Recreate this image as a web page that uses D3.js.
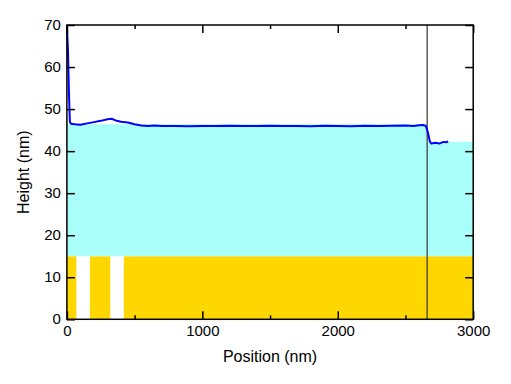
<!DOCTYPE html>
<html><head><meta charset="utf-8">
<script src="https://cdn.jsdelivr.net/npm/d3@7"></script>
<style>body{margin:0;background:#fff}svg{display:block}text{font-family:"Liberation Sans",Arial,Helvetica,sans-serif;fill:#000}</style>
</head><body>
<svg id="c" width="511" height="384"></svg>
<script>
// Data
const profilePos = [0, 8, 15, 22, 30, 60, 100, 150, 200, 250, 300, 330, 360, 400, 450, 500, 550, 600, 650, 700, 800, 900, 1000, 1100, 1200, 1300, 1400, 1500, 1600, 1700, 1800, 1900, 2000, 2100, 2200, 2300, 2400, 2500, 2560, 2600, 2630, 2650, 2665, 2680, 2690, 2720, 2750, 2780, 2800, 2815];
const profileHeight = [70, 64, 54, 47, 46.5, 46.4, 46.3, 46.6, 46.9, 47.2, 47.6, 47.7, 47.3, 47.0, 46.8, 46.4, 46.1, 46.0, 46.1, 45.95, 46.0, 45.9, 46.0, 45.95, 46.05, 45.95, 46.0, 46.05, 45.95, 46.0, 45.9, 46.05, 46.0, 45.9, 46.05, 45.95, 46.05, 46.1, 46.0, 46.15, 46.2, 46.0, 44.5, 42.3, 41.8, 42.0, 41.8, 42.2, 42.1, 42.3];
const cyanX0 = [0, 0];
const cyanX1 = [2660, 3000];
const cyanY0 = [42.2, 15];
const cyanY1 = [46.4, 42.2];
const yellowX0 = [0, 170, 420];
const yellowX1 = [70, 320, 3000];
const yellowTop = 15;
const edgePos = 2660;
const xTickLabels = [0, 1000, 2000, 3000];
const yTickLabels = [0, 10, 20, 30, 40, 50, 60, 70];
const xMinorTicks = [500, 1500, 2500];

const svg = d3.select("#c");
const L = 66.9, R = 473.2, T = 25, B = 319.3;
const x = d3.scaleLinear().domain([0, 3000]).range([L, R]);
const y = d3.scaleLinear().domain([0, 70]).range([B, T]);

// yellow
svg.append("g").selectAll("rect").data(yellowX0.map((v,i)=>({x0:v,x1:yellowX1[i]}))).join("rect")
  .attr("x", d=>x(d.x0)).attr("width", d=>x(d.x1)-x(d.x0))
  .attr("y", y(yellowTop)).attr("height", y(0)-y(yellowTop)).attr("fill", "#ffd700");
// cyan
svg.append("g").selectAll("rect").data(cyanX0.map((v,i)=>({x0:v,x1:cyanX1[i],y0:cyanY0[i],y1:cyanY1[i]}))).join("rect")
  .attr("x", d=>x(d.x0)).attr("width", d=>x(d.x1)-x(d.x0))
  .attr("y", d=>y(d.y1)).attr("height", d=>y(d.y0)-y(d.y1)).attr("fill", "#abfffa");

// vertical edge line
svg.append("line").attr("x1", x(edgePos)).attr("x2", x(edgePos)).attr("y1", y(0)).attr("y2", y(70))
  .attr("stroke", "#333").attr("stroke-width", 1.2);

// profile line
const pts = profilePos.map((p,i)=>[p, profileHeight[i]]);
svg.append("path").datum(pts)
  .attr("d", d3.line().x(d=>x(d[0])).y(d=>y(d[1])))
  .attr("fill", "none").attr("stroke", "#0000ff").attr("stroke-width", 2).attr("stroke-linejoin","round");

// Axes with inward ticks
const fmt = d3.format("d");
const axB = d3.axisBottom(x).tickValues(xTickLabels).tickSize(-8).tickFormat(fmt).tickPadding(14);
const gB = svg.append("g").attr("transform", `translate(0,${B})`).call(axB);
const axBm = d3.axisBottom(x).tickValues(xMinorTicks).tickSize(-4).tickFormat("");
svg.append("g").attr("transform", `translate(0,${B})`).call(axBm);
const axT = d3.axisTop(x).tickValues(xTickLabels).tickSize(-8).tickFormat("");
svg.append("g").attr("transform", `translate(0,${T})`).call(axT);
const axTm = d3.axisTop(x).tickValues(xMinorTicks).tickSize(-4).tickFormat("");
svg.append("g").attr("transform", `translate(0,${T})`).call(axTm);
const axL = d3.axisLeft(y).tickValues(yTickLabels).tickSize(-8).tickFormat(fmt).tickPadding(14);
const gL = svg.append("g").attr("transform", `translate(${L},0)`).call(axL);
const axR = d3.axisRight(y).tickValues(yTickLabels).tickSize(-8).tickFormat("");
svg.append("g").attr("transform", `translate(${R},0)`).call(axR);

svg.selectAll(".domain").remove();
svg.selectAll(".tick line").attr("stroke", "#000").attr("stroke-width", 1.5);
svg.selectAll(".tick text").attr("font-size", 15).attr("font-family", '"Liberation Sans",Arial,sans-serif').attr("fill","#000");
gL.selectAll(".tick text").attr("x", -6).attr("dy", "0.3em");
gB.selectAll(".tick text").attr("y", 6).attr("dy", "0.71em");

// frame
svg.append("rect").attr("x", L).attr("y", T).attr("width", R-L).attr("height", B-T)
  .attr("fill", "none").attr("stroke", "#000").attr("stroke-width", 1.5);

// titles
svg.append("text").attr("x", (L+R)/2).attr("y", 361.5).attr("text-anchor", "middle").attr("font-size", 16).text("Position (nm)");
svg.append("text").attr("transform", `translate(29,${(T+B)/2}) rotate(-90)`).attr("text-anchor", "middle").attr("font-size", 16).text("Height (nm)");
</script>
</body></html>
